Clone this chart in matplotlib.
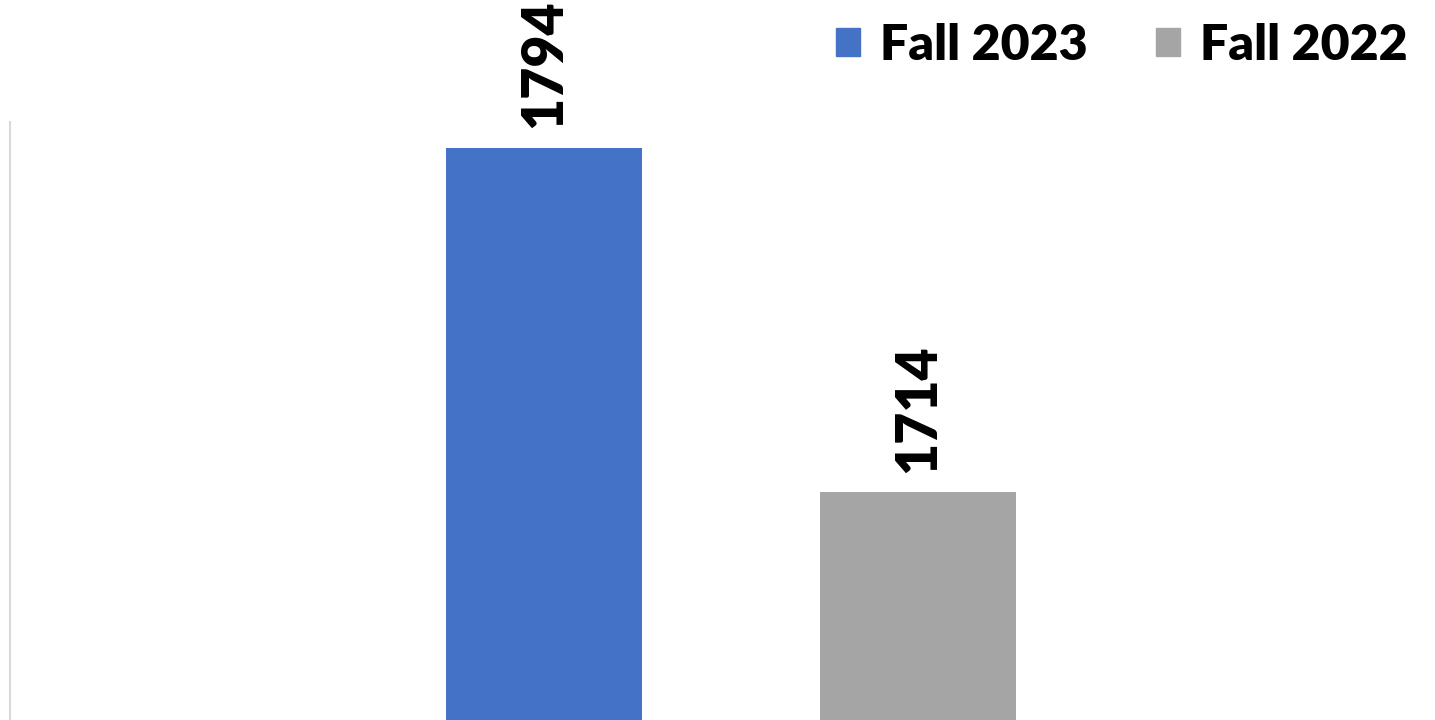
import matplotlib.pyplot as plt
import numpy as np

plt.rcParams['font.family'] = ['Lato', 'DejaVu Sans']

series = ['Fall 2023', 'Fall 2022']
values = [1794, 1714]
colors = ['#4472C4', '#A5A5A5']

fig = plt.figure(figsize=(14.35, 7.2), dpi=100)
ax = fig.add_axes([10 / 1435, 0, 1425 / 1435, 598 / 720])

x = np.arange(len(values))
bars = ax.bar(x, values, width=0.524, color=colors, label=series)

for xi, v in zip(x, values):
    ax.annotate(str(v), xy=(xi, v), xytext=(0, 14), textcoords='offset points',
                rotation=90, ha='center', va='bottom', fontsize=40,
                fontweight='heavy', color='black')

ax.set_xlim(-1.428, 2.382)
ax.set_ylim(1661, 1800)

for side in ['top', 'right', 'bottom']:
    ax.spines[side].set_visible(False)
ax.spines['left'].set_color('#d9d9d9')
ax.spines['left'].set_linewidth(1.5)
ax.set_xticks([])
ax.set_yticks([])

handles = [plt.Rectangle((0, 0), 1, 1, color=c) for c in colors]
fig.legend(handles, series, loc='center right', bbox_to_anchor=(1.012, 0.937),
           ncol=2, frameon=False, prop={'size': 36, 'weight': 'heavy'},
           handlelength=0.48, handleheight=0.48, handletextpad=0.4,
           columnspacing=1.35)

fig.savefig('out.png', dpi=100)
